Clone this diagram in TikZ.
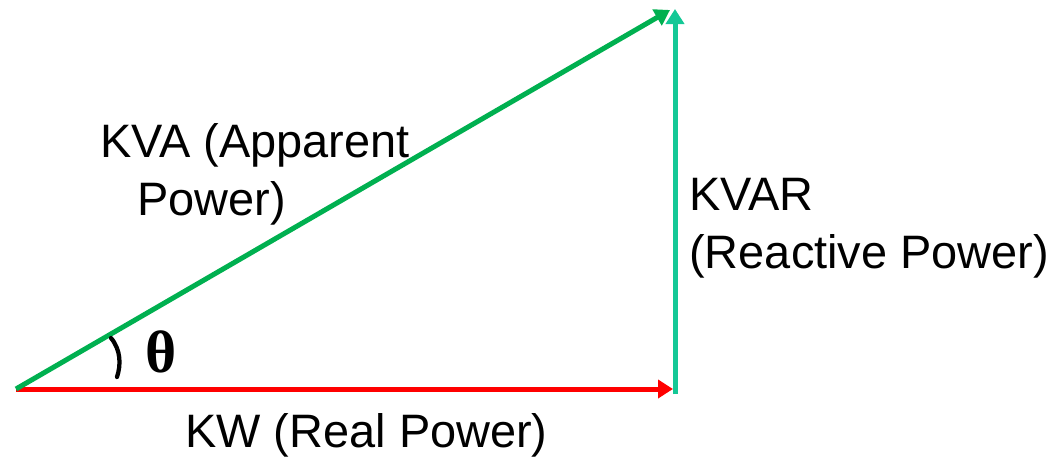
\documentclass[tikz,border=0pt]{standalone}
\usepackage{fontspec}
\setmainfont{Liberation Sans}
\newfontfamily\thetafont{Liberation Serif}
\usepackage{xcolor}
\usepackage{tikz}
\usetikzlibrary{arrows.meta, positioning}
\definecolor{kvagreen}{RGB}{0,176,80}
\definecolor{kvarteal}{RGB}{20,200,150}
\definecolor{kwred}{RGB}{255,0,0}
\tikzset{
  phasor/.style={-{Triangle[length=0.3cm, width=0.36cm]}, line width=0.1cm},
  label/.style={font=\fontsize{26.7}{33}\selectfont, inner sep=0pt, text=black},
  anglearc/.style={line width=0.085cm, color=black, line cap=round}
}

\begin{document}
\begin{tikzpicture}[x=0.02cm, y=0.02cm]
  \useasboundingbox (0,0) rectangle (1058,458);

  \coordinate (o) at (16,69);
  \coordinate (kwend) at (673,69);
  \coordinate (kvarstart) at (675,64);
  \coordinate (kvarend) at (675,449);
  \coordinate (kvaend) at (670,448);
  \coordinate (arctop) at (111,120);
  \coordinate (arcbot) at (117,81);

  \draw[phasor, color=kwred] (o) -- (kwend);
  \draw[phasor, color=kvarteal] (kvarstart) -- (kvarend);
  \draw[phasor, color=kvagreen] (o) -- (kvaend);

  % angle mark
  \draw[anglearc] (arctop) .. controls (121,108) and (121,93) .. (arcbot);
  \node[inner sep=0pt] (theta) at (161,106)
    {\thetafont\bfseries\fontsize{34}{34}\selectfont θ};

  \node[label, anchor=base west] (kva1) at (100,301) {KVA (Apparent};
  \node[label, anchor=base west] (kva2) at (137,243) {Power)};
  \node[label, anchor=base west, align=left] (kvar) at (689,190)
    {KVAR\\(Reactive Power)};
  \node[label, anchor=base west] (kw) at (185,11) {KW (Real Power)};
\end{tikzpicture}
\end{document}
